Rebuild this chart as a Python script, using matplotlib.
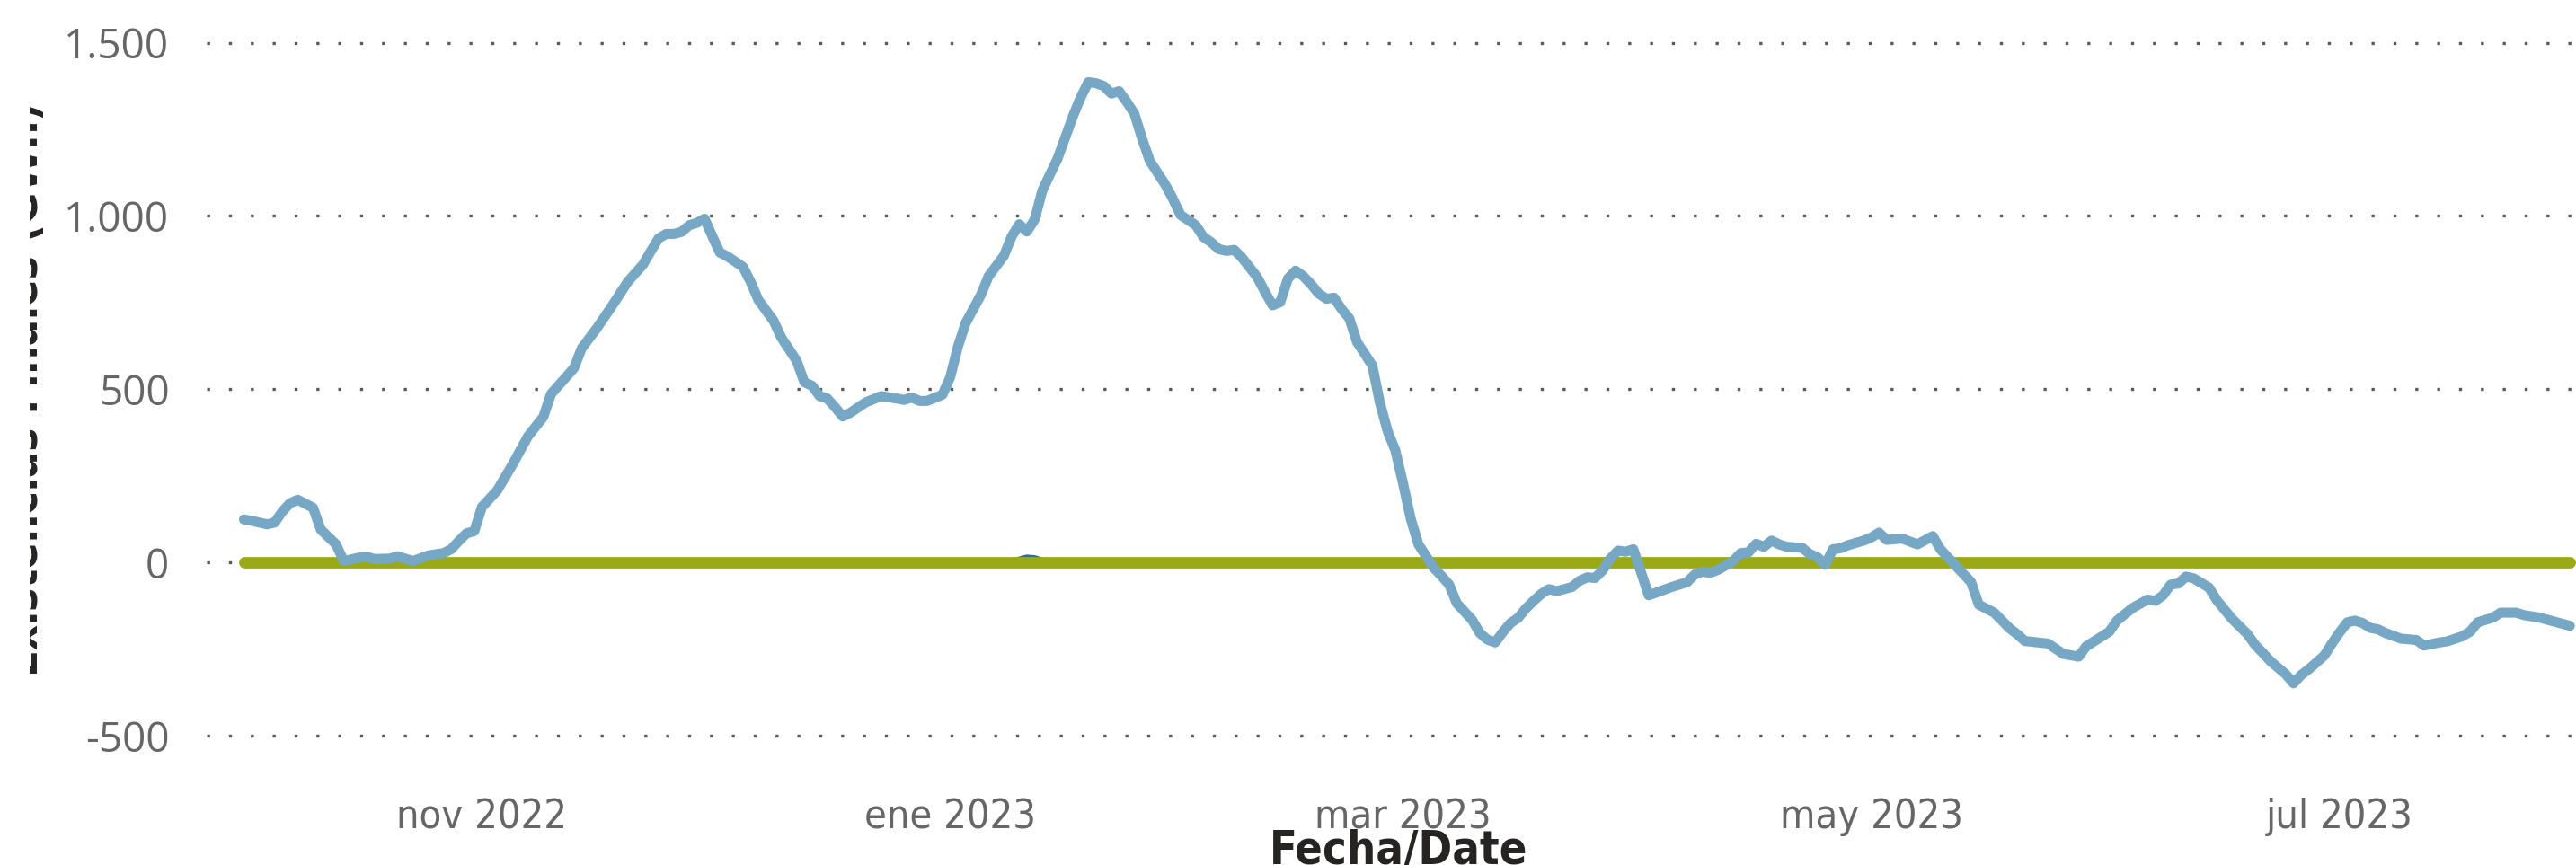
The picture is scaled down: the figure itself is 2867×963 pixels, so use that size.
import os
import matplotlib
matplotlib.use('Agg')
import matplotlib.pyplot as plt
import matplotlib.ticker as mticker
from matplotlib import font_manager as fm
from matplotlib.transforms import Bbox, TransformedBbox
import pandas as pd

# datos (dias desde 2022-10-01)
inicio = '2022-10-01'
dias = [0, 1, 3, 4, 5, 6, 7, 9, 10, 12, 13, 15, 16, 17, 19, 20, 22, 24, 26, 27,
        28, 29, 30, 31, 33, 35, 37, 39, 40, 43, 44, 46, 48, 50, 52, 53, 54, 55, 56, 57,
        58, 59, 60, 61, 62, 63, 65, 66, 67, 69, 70, 72, 73, 74, 75, 76, 77, 78, 79, 81,
        83, 85, 86, 87, 88, 89, 91, 92, 93, 94, 96, 97, 99, 100, 101, 102, 103, 104, 106, 107,
        108, 109, 110, 111, 112, 113, 114, 115, 116, 117, 118, 120, 121, 122, 124, 125, 126, 127, 128, 129,
        130, 132, 133, 134, 135, 136, 137, 138, 139, 140, 141, 142, 143, 144, 145, 147, 148, 149, 150, 151,
        152, 153, 154, 155, 156, 157, 158, 160, 161, 162, 163, 164, 165, 166, 167, 168, 169, 170, 171, 173,
        174, 175, 176, 177, 178, 179, 180, 181, 183, 185, 186, 188, 189, 190, 191, 192, 194, 195, 196, 197,
        198, 199, 200, 201, 203, 204, 205, 206, 207, 208, 209, 211, 212, 213, 214, 216, 218, 220, 221, 223,
        225, 226, 228, 230, 231, 232, 235, 237, 239, 240, 243, 244, 246, 248, 249, 250, 251, 252, 253, 254,
        256, 257, 259, 261, 262, 263, 264, 266, 267, 268, 269, 271, 272, 273, 274, 275, 276, 277, 278, 279,
        281, 283, 284, 286, 287, 289, 290, 291, 293, 294, 296, 297, 299, 301, 303]
existencias = [124, 120, 110, 115, 147, 171, 181, 158, 95, 52, 4, 14, 16, 10, 11, 18, 4, 20, 27, 38,
               62, 84, 90, 160, 208, 283, 364, 420, 486, 561, 618, 677, 742, 810, 860, 898, 935, 948, 948, 954,
               973, 980, 992, 942, 894, 883, 853, 810, 758, 697, 649, 582, 520, 510, 480, 473, 448, 421, 432, 462,
               480, 473, 469, 476, 466, 466, 484, 534, 622, 690, 772, 826, 885, 940, 976, 955, 989, 1073, 1166, 1227,
               1288, 1342, 1386, 1383, 1375, 1353, 1360, 1329, 1295, 1223, 1159, 1091, 1050, 1003, 973, 939, 924, 904, 899, 902,
               880, 823, 781, 742, 751, 819, 842, 826, 803, 776, 761, 764, 731, 704, 636, 568, 459, 378, 323, 228,
               126, 52, 18, -16, -39, -64, -118, -166, -204, -223, -231, -201, -175, -160, -133, -111, -91, -77, -83, -71,
               -53, -43, -45, -23, 11, 34, 31, 38, -95, -79, -71, -57, -35, -27, -30, -22, 4, 27, 29, 54,
               45, 63, 52, 45, 42, 24, 15, -7, 38, 41, 50, 63, 72, 86, 65, 69, 52, 76, 38, -10,
               -57, -122, -145, -190, -207, -227, -234, -264, -272, -242, -200, -168, -132, -107, -111, -95, -64, -61, -41, -46,
               -73, -109, -163, -207, -238, -261, -285, -323, -349, -325, -308, -269, -234, -202, -173, -168, -175, -189, -193, -204,
               -220, -224, -240, -231, -228, -213, -200, -173, -159, -145, -145, -152, -159, -171, -183]

dias_ref = [0, 100, 101, 102, 103, 104, 105, 303]
referencia = [0, 0, 6, 12, 10, 3, 0, 0]
dias_meta = [0, 303]
meta = [0, 0]

meses = ['2022-11-01', '2023-01-01', '2023-03-01', '2023-05-01', '2023-07-01']
etiquetas_mes = ['nov 2022', 'ene 2023', 'mar 2023', 'may 2023', 'jul 2023']
y_ticks = [-500, 0, 500, 1000, 1500]


def fuente(archivos, respaldo, peso='normal'):
    # busca una fuente estrecha instalada; si no hay, usa la de respaldo
    rutas = {os.path.basename(f.fname): f.fname for f in fm.fontManager.ttflist}
    for a in archivos:
        if a in rutas:
            return fm.FontProperties(fname=rutas[a])
    return fm.FontProperties(family=respaldo, weight=peso)


estrecha = fuente(['DINPro-CondensedRegular.ttf', 'LiberationSansNarrow-Regular.ttf',
                   'DejaVuSansCondensed.ttf', 'NotoSans-Condensed.ttf',
                   'RobotoCondensed-Regular.ttf', 'OpenSans_Condensed-Regular.ttf'], 'Lato')
estrecha_neg = fuente(['LiberationSansNarrow-Bold.ttf', 'DejaVuSansCondensed-Bold.ttf',
                       'NotoSans-CondensedBold.ttf', 'RobotoCondensed-Bold.ttf',
                       'OpenSans_Condensed-Bold.ttf'], 'Lato', 'bold')
normal = fm.FontProperties(family='Open Sans')

base = pd.Timestamp(inicio)
fechas = base + pd.to_timedelta(dias, unit='D')
fechas_ref = base + pd.to_timedelta(dias_ref, unit='D')
fechas_meta = base + pd.to_timedelta(dias_meta, unit='D')

W, H = 2867, 963
fig = plt.figure(figsize=(W / 100, H / 100), dpi=100)
ax = fig.add_axes([230 / W, 1 - 819 / H, 1 - 230 / W, (819 - 47.5) / H])

ax.plot(fechas_ref, referencia, color='#1f6fb2', lw=6, solid_capstyle='round', zorder=2)
ax.plot(fechas_meta, meta, color='#9aaa17', lw=9.2, solid_capstyle='round', zorder=3)
ax.plot(fechas, existencias, color='#76a8c6', lw=8, solid_capstyle='round',
        solid_joinstyle='round', zorder=4)

ax.set_ylim(-500, 1500)
ax.set_xlim(base - pd.Timedelta(days=4.86), base + pd.Timedelta(days=303.8))
ax.set_yticks(y_ticks)
ax.yaxis.set_major_formatter(mticker.FuncFormatter(lambda v, p: f'{v:,.0f}'.replace(',', '.')))
ax.set_xticks(pd.to_datetime(meses))
ax.set_xticklabels(etiquetas_mes)

ax.yaxis.grid(True, linestyle=(0, (1, 6.3)), linewidth=2.4, color='#595959')
ax.xaxis.grid(False)
ax.set_axisbelow(True)
for gl in ax.get_ygridlines():
    gl.set_clip_on(False)
for s in ax.spines.values():
    s.set_visible(False)

ax.tick_params(axis='y', length=0, pad=30, labelcolor='#666666')
ax.tick_params(axis='x', length=0, pad=50, labelcolor='#666666')
for t in ax.get_yticklabels():
    t.set_fontproperties(normal)
    t.set_fontsize(33)
for t in ax.get_xticklabels():
    t.set_fontproperties(estrecha)
    t.set_fontsize(36)

xlab = fig.text(1557 / W, 2 / H, 'Fecha/Date', ha='center', va='baseline',
                color='#252423', fontproperties=estrecha_neg, fontsize=36)
ylab = fig.text(42 / W, 1 - 433 / H, 'Existencias Finales (GWh)', rotation=90,
                rotation_mode='anchor', ha='center', va='baseline',
                color='#252423', fontproperties=estrecha_neg, fontsize=40)
ylab.set_clip_box(TransformedBbox(Bbox([[33 / W, 0], [1, 1]]), fig.transFigure))

# ajusta tamanos de letra al ancho medido en la referencia
fig.canvas.draw()
r = fig.canvas.get_renderer()
w = ax.get_xticklabels()[0].get_window_extent(r).width
for t in ax.get_xticklabels():
    t.set_fontsize(min(40, 36 * 190 / w))
w = xlab.get_window_extent(r).width
xlab.set_fontsize(min(40, 36 * 287 / w))
h = ylab.get_window_extent(r).height
ylab.set_fontsize(min(44, 40 * 638 / h))

fig.savefig('out.png', dpi=100, facecolor='white')
